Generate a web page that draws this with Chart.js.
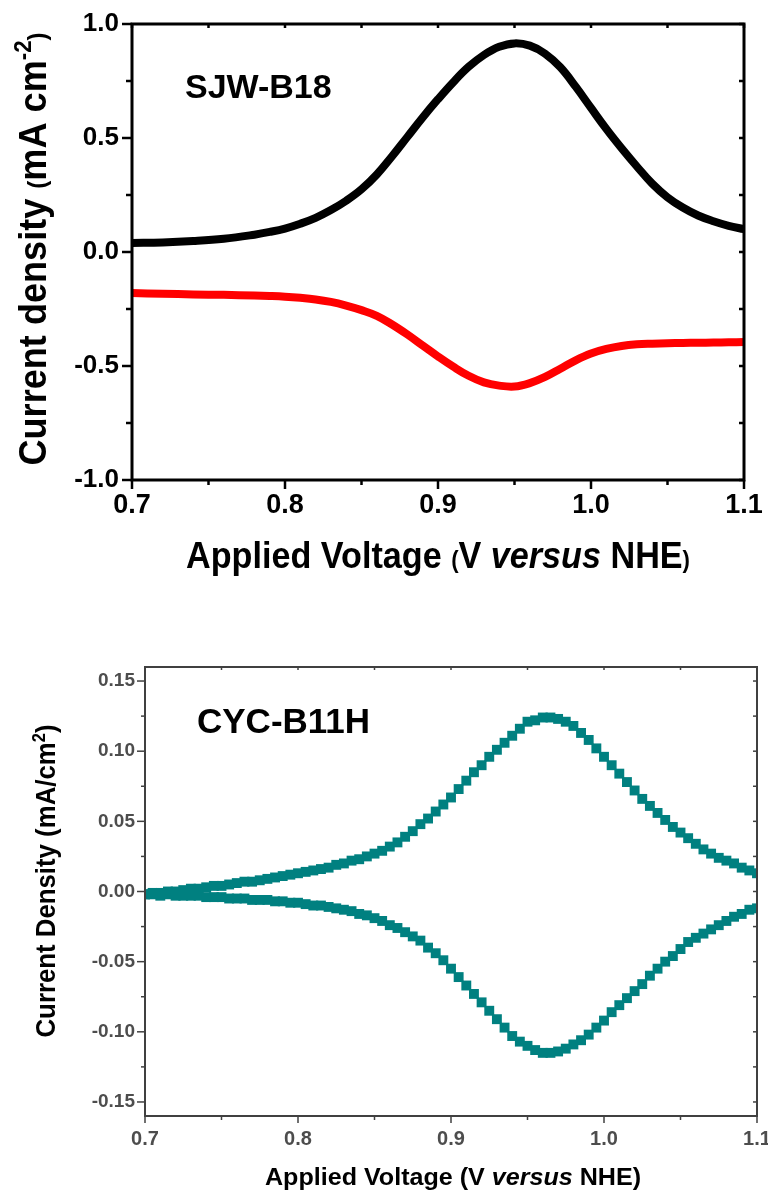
<!DOCTYPE html>
<html>
<head>
<meta charset="utf-8">
<script src="https://cdn.jsdelivr.net/npm/chart.js@4.4.1/dist/chart.umd.min.js"></script>
<style>
  html, body { margin: 0; padding: 0; background: #fff; }
  .panel { position: absolute; left: 0; width: 768px; height: 598px; }
  #topPanel { top: 0; }
  #bottomPanel { top: 598px; }
</style>
</head>
<body>
<div class="panel" id="topPanel"><canvas id="sjwChart" width="768" height="598"></canvas></div>
<div class="panel" id="bottomPanel"><canvas id="cycChart" width="768" height="598"></canvas></div>
<script>
// ---- SJW-B18 (top panel) ----
const sjwVoltage = [0.70, 0.72, 0.74, 0.76, 0.78, 0.79, 0.80, 0.81, 0.82, 0.83, 0.84, 0.85, 0.86, 0.87, 0.88, 0.89,
  0.90, 0.91, 0.92, 0.93, 0.94, 0.95, 0.96, 0.97, 0.98, 0.99, 1.00, 1.01, 1.02, 1.03, 1.04, 1.05, 1.06, 1.07,
  1.08, 1.09, 1.10];
const sjwAnodic = [0.040, 0.042, 0.048, 0.058, 0.076, 0.088, 0.103, 0.124, 0.150, 0.184, 0.225, 0.275, 0.340, 0.420, 0.505, 0.590,
  0.670, 0.745, 0.812, 0.864, 0.900, 0.915, 0.905, 0.870, 0.810, 0.725, 0.632, 0.540, 0.455, 0.375, 0.300, 0.240, 0.195, 0.160,
  0.135, 0.115, 0.100];
const sjwCathodic = [-0.180, -0.183, -0.186, -0.188, -0.191, -0.193, -0.196, -0.201, -0.208, -0.219, -0.235, -0.255, -0.280, -0.318, -0.362, -0.410,
  -0.458, -0.503, -0.543, -0.572, -0.586, -0.590, -0.575, -0.548, -0.512, -0.475, -0.445, -0.425, -0.412, -0.405, -0.402, -0.400, -0.399, -0.398,
  -0.397, -0.396, -0.395];
const sjwXTicks = [0.7, 0.8, 0.9, 1.0, 1.1];
const sjwYTicks = [-1.0, -0.5, 0.0, 0.5, 1.0];

// ---- CYC-B11H (bottom panel) ----
const cycVoltage = [0.700, 0.705, 0.710, 0.715, 0.720, 0.725, 0.730, 0.735, 0.740, 0.745,
  0.750, 0.755, 0.760, 0.765, 0.770, 0.775, 0.780, 0.785, 0.790, 0.795,
  0.800, 0.805, 0.810, 0.815, 0.820, 0.825, 0.830, 0.835, 0.840, 0.845,
  0.850, 0.855, 0.860, 0.865, 0.870, 0.875, 0.880, 0.885, 0.890, 0.895,
  0.900, 0.905, 0.910, 0.915, 0.920, 0.925, 0.930, 0.935, 0.940, 0.945,
  0.950, 0.955, 0.960, 0.965, 0.970, 0.975, 0.980, 0.985, 0.990, 0.995,
  1.000, 1.005, 1.010, 1.015, 1.020, 1.025, 1.030, 1.035, 1.040, 1.045,
  1.050, 1.055, 1.060, 1.065, 1.070, 1.075, 1.080, 1.085, 1.090, 1.095, 1.100];
const cycForward = [-0.002, -0.001, -0.001, 0.000, 0.000, 0.001, 0.002, 0.002, 0.003, 0.004,
  0.004, 0.005, 0.006, 0.007, 0.007, 0.008, 0.009, 0.010, 0.011, 0.012,
  0.013, 0.014, 0.015, 0.016, 0.017, 0.019, 0.020, 0.022, 0.023, 0.025,
  0.027, 0.029, 0.032, 0.035, 0.039, 0.043, 0.048, 0.052, 0.057, 0.062,
  0.067, 0.073, 0.079, 0.085, 0.090, 0.096, 0.101, 0.106, 0.111, 0.116,
  0.121, 0.122, 0.124, 0.124, 0.123, 0.121, 0.118, 0.113, 0.108, 0.102,
  0.096, 0.090, 0.084, 0.078, 0.072, 0.066, 0.061, 0.056, 0.051, 0.046,
  0.042, 0.038, 0.034, 0.030, 0.027, 0.024, 0.022, 0.020, 0.017, 0.015, 0.013];
const cycReverse = [-0.002, -0.002, -0.003, -0.002, -0.003, -0.003, -0.003, -0.003, -0.004, -0.004,
  -0.004, -0.005, -0.005, -0.005, -0.006, -0.006, -0.006, -0.007, -0.007, -0.008,
  -0.008, -0.009, -0.010, -0.010, -0.011, -0.012, -0.013, -0.014, -0.016, -0.017,
  -0.019, -0.021, -0.024, -0.026, -0.029, -0.032, -0.035, -0.040, -0.044, -0.049,
  -0.055, -0.061, -0.067, -0.073, -0.079, -0.085, -0.091, -0.097, -0.103, -0.107,
  -0.110, -0.113, -0.115, -0.115, -0.114, -0.112, -0.109, -0.106, -0.102, -0.097,
  -0.092, -0.086, -0.081, -0.076, -0.071, -0.066, -0.060, -0.055, -0.050, -0.046,
  -0.041, -0.036, -0.033, -0.030, -0.027, -0.024, -0.021, -0.018, -0.016, -0.013, -0.012];
const cycXTicks = [0.7, 0.8, 0.9, 1.0, 1.1];
const cycYTicks = [-0.15, -0.10, -0.05, 0.00, 0.05, 0.10, 0.15];

const FONT = "'Liberation Sans', Arial, Helvetica, sans-serif";

function toPoints(xs, ys) {
  return xs.map((x, i) => ({ x: x, y: ys[i] }));
}

// text with mixed sizes / italics, squeezed to a target length
function drawRich(ctx, item) {
  ctx.save();
  const widths = [];
  let natural = 0;
  item.parts.forEach(p => {
    ctx.font = (p.italic ? 'italic ' : '') + 'bold ' + p.size + 'px ' + FONT;
    const w = ctx.measureText(p.text).width;
    widths.push(w);
    natural += w;
  });
  const sx = item.length ? item.length / natural : 1;
  ctx.translate(item.x, item.y);
  if (item.rotate) ctx.rotate(item.rotate);
  ctx.scale(sx, 1);
  ctx.fillStyle = item.color || '#000';
  ctx.textBaseline = 'alphabetic';
  ctx.textAlign = 'left';
  let x = item.anchor === 'left' ? 0 : -natural / 2;
  item.parts.forEach((p, i) => {
    ctx.font = (p.italic ? 'italic ' : '') + 'bold ' + p.size + 'px ' + FONT;
    ctx.fillText(p.text, x, -(p.rise || 0));
    x += widths[i];
  });
  ctx.restore();
}

function drawTicks(ctx, scale, spec, side, a) {
  const ratio = Math.round(spec.major / spec.minor);
  const k0 = Math.ceil(scale.min / spec.minor - 1e-6);
  const k1 = Math.floor(scale.max / spec.minor + 1e-6);
  for (let k = k0; k <= k1; k++) {
    const p = scale.getPixelForValue(k * spec.minor);
    const len = (((k % ratio) + ratio) % ratio === 0) ? spec.majorLen : spec.minorLen;
    ctx.beginPath();
    if (side === 'bottom') { ctx.moveTo(p, a.bottom); ctx.lineTo(p, a.bottom + len); }
    if (side === 'top') { ctx.moveTo(p, a.top); ctx.lineTo(p, a.top + len); }
    if (side === 'left') { ctx.moveTo(a.left, p); ctx.lineTo(a.left - len, p); }
    if (side === 'right') { ctx.moveTo(a.right, p); ctx.lineTo(a.right - len, p); }
    ctx.stroke();
  }
}

function framePlugin(cfg) {
  return {
    id: 'frame',
    afterDatasetsDraw(chart) {
      const ctx = chart.ctx;
      const a = chart.chartArea;
      const { x, y } = chart.scales;
      ctx.save();
      ctx.strokeStyle = cfg.color;
      ctx.lineWidth = cfg.tickWidth;
      drawTicks(ctx, x, cfg.x, 'bottom', a);
      drawTicks(ctx, x, cfg.xTop, 'top', a);
      drawTicks(ctx, y, cfg.y, 'left', a);
      drawTicks(ctx, y, cfg.yRight, 'right', a);
      ctx.lineWidth = cfg.frameWidth;
      ctx.strokeRect(a.left, a.top, a.right - a.left, a.bottom - a.top);
      ctx.restore();
      cfg.labels.forEach(item => drawRich(ctx, item));
    }
  };
}

function fixedScale(size, horizontal) {
  return function (scale) {
    if (horizontal) scale.height = size; else scale.width = size;
    scale.paddingLeft = 0; scale.paddingRight = 0;
    scale.paddingTop = 0; scale.paddingBottom = 0;
  };
}

// ---------- top chart ----------
new Chart(document.getElementById('sjwChart').getContext('2d'), {
  type: 'line',
  data: {
    datasets: [
      {
        label: 'Forward scan',
        data: toPoints(sjwVoltage, sjwAnodic),
        borderColor: '#000000',
        borderWidth: 8,
        pointRadius: 0,
        tension: 0.4,
      },
      {
        label: 'Reverse scan',
        data: toPoints(sjwVoltage, sjwCathodic),
        borderColor: '#ff0000',
        borderWidth: 8,
        pointRadius: 0,
        tension: 0.4,
      },
    ],
  },
  options: {
    responsive: false,
    animation: false,
    layout: { padding: { top: 24, right: 24, left: 0, bottom: 0 } },
    plugins: { legend: { display: false }, tooltip: { enabled: false } },
    scales: {
      x: {
        type: 'linear',
        min: 0.7,
        max: 1.1,
        afterBuildTicks: s => { s.ticks = sjwXTicks.map(v => ({ value: v })); },
        afterFit: fixedScale(118, true),
        grid: { display: false, drawTicks: false },
        border: { display: false },
        ticks: {
          autoSkip: false,
          maxRotation: 0,
          padding: 9,
          color: '#000',
          font: { family: FONT, size: 27, weight: 'bold' },
          callback: v => v.toFixed(1),
        },
      },
      y: {
        min: -1,
        max: 1,
        afterBuildTicks: s => { s.ticks = sjwYTicks.map(v => ({ value: v })); },
        afterFit: fixedScale(132, false),
        grid: { display: false, drawTicks: false },
        border: { display: false },
        ticks: {
          padding: 13,
          color: '#000',
          font: { family: FONT, size: 26, weight: 'bold' },
          callback: v => v.toFixed(1),
        },
      },
    },
  },
  plugins: [framePlugin({
    color: '#000',
    frameWidth: 3,
    tickWidth: 2.5,
    x: { major: 0.1, minor: 0.05, majorLen: 9, minorLen: 5 },
    xTop: { major: 0.05, minor: 0.05, majorLen: 4, minorLen: 4 },
    y: { major: 0.5, minor: 0.25, majorLen: 10, minorLen: 6 },
    yRight: { major: 0.25, minor: 0.25, majorLen: 5, minorLen: 5 },
    labels: [
      { x: 185, y: 98, anchor: 'left', parts: [{ text: 'SJW-B18', size: 34 }] },
      {
        x: 438, y: 568, length: 504,
        parts: [
          { text: 'Applied Voltage ', size: 37 },
          { text: '(', size: 24 },
          { text: 'V ', size: 37 },
          { text: 'versus', size: 37, italic: true },
          { text: ' NHE', size: 37 },
          { text: ')', size: 24 },
        ],
      },
      {
        x: 46, y: 249, rotate: -Math.PI / 2, length: 433,
        parts: [
          { text: 'Current density ', size: 39 },
          { text: '(', size: 26 },
          { text: 'mA cm', size: 39 },
          { text: '-2', size: 24, rise: 15 },
          { text: ')', size: 26 },
        ],
      },
    ],
  })],
});

// ---------- bottom chart ----------
new Chart(document.getElementById('cycChart').getContext('2d'), {
  type: 'line',
  data: {
    datasets: [
      {
        label: 'Forward scan',
        data: toPoints(cycVoltage, cycForward),
        borderColor: '#008080',
        backgroundColor: '#008080',
        borderWidth: 2,
        pointStyle: 'rect',
        pointRadius: 7,
        pointBorderWidth: 0,
      },
      {
        label: 'Reverse scan',
        data: toPoints(cycVoltage, cycReverse),
        borderColor: '#008080',
        backgroundColor: '#008080',
        borderWidth: 2,
        pointStyle: 'rect',
        pointRadius: 7,
        pointBorderWidth: 0,
      },
    ],
  },
  options: {
    responsive: false,
    animation: false,
    layout: { padding: { top: 69, right: 11, left: 0, bottom: 0 } },
    plugins: { legend: { display: false }, tooltip: { enabled: false } },
    scales: {
      x: {
        type: 'linear',
        min: 0.7,
        max: 1.1,
        afterBuildTicks: s => { s.ticks = cycXTicks.map(v => ({ value: v })); },
        afterFit: fixedScale(80, true),
        grid: { display: false, drawTicks: false },
        border: { display: false },
        ticks: {
          autoSkip: false,
          maxRotation: 0,
          padding: 11,
          color: '#4d4d4d',
          font: { family: FONT, size: 20, weight: 'bold' },
          callback: v => v.toFixed(1),
        },
      },
      y: {
        min: -0.16,
        max: 0.16,
        afterBuildTicks: s => { s.ticks = cycYTicks.map(v => ({ value: v })); },
        afterFit: fixedScale(145, false),
        grid: { display: false, drawTicks: false },
        border: { display: false },
        ticks: {
          padding: 10,
          color: '#4d4d4d',
          font: { family: FONT, size: 19, weight: 'bold' },
          callback: v => v.toFixed(2),
        },
      },
    },
  },
  plugins: [framePlugin({
    color: '#404040',
    frameWidth: 2,
    tickWidth: 1.5,
    x: { major: 0.1, minor: 0.05, majorLen: 7, minorLen: 4 },
    xTop: { major: 0.05, minor: 0.05, majorLen: 3, minorLen: 3 },
    y: { major: 0.05, minor: 0.025, majorLen: 8, minorLen: 4 },
    yRight: { major: 0.025, minor: 0.025, majorLen: 4, minorLen: 4 },
    labels: [
      { x: 197, y: 135, anchor: 'left', parts: [{ text: 'CYC-B11H', size: 35 }] },
      {
        x: 453, y: 587, length: 376,
        parts: [
          { text: 'Applied Voltage (V ', size: 24 },
          { text: 'versus', size: 24, italic: true },
          { text: ' NHE)', size: 24 },
        ],
      },
      {
        x: 55, y: 283, rotate: -Math.PI / 2, length: 313,
        parts: [
          { text: 'Current Density (mA/cm', size: 28 },
          { text: '2', size: 18, rise: 10 },
          { text: ')', size: 28 },
        ],
      },
    ],
  })],
});
</script>
</body>
</html>
